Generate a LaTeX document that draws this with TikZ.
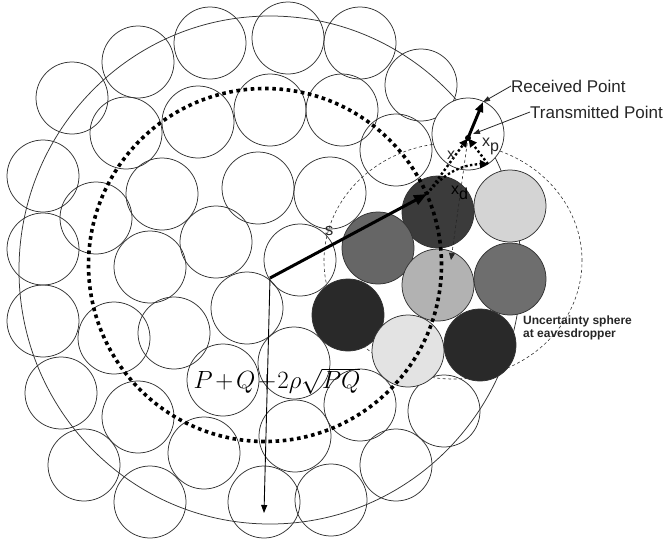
\documentclass[tikz,border=0pt]{standalone}
\usepackage{fontspec}
\setmainfont{Liberation Sans}
\usetikzlibrary{arrows.meta}
\begin{document}
\begin{tikzpicture}[x=1pt,y=-1pt,
  cell/.style={circle, draw=black!80, line width=0.75pt, minimum size=72pt, inner sep=0pt},
  gcell/.style={cell, fill=#1},
  bigline/.style={draw=black!80, line width=0.75pt},
  uncert/.style={draw=black!80, line width=0.6pt, dash pattern=on 3pt off 2.5pt},
  bigdots/.style={draw=black, line width=3.6pt, dash pattern=on 3.6pt off 3.6pt},
  dotarrow/.style={draw=black, line width=2.4pt, dash pattern=on 2.4pt off 2.4pt, -{Triangle[length=8pt,width=8pt]}},
  dasharrow/.style={draw=black!85, line width=0.6pt, dash pattern=on 3pt off 2.5pt, -{Triangle[length=7pt,width=6pt]}},
  thickarrow/.style={draw=black, line width=3pt, -{Triangle[length=13pt,width=10pt]}},
  thinarrow/.style={draw=black, line width=0.9pt, -{Triangle[length=8pt,width=6pt]}},
  leader/.style={draw=black!85, line width=0.8pt, -{Triangle[length=7pt,width=5pt]}},
  lbl/.style={inner sep=0pt, text=black!85}
]
\useasboundingbox (0,0) rectangle (672,541);
% outer boundary and uncertainty sphere
\draw[bigline] (270,270) ellipse [x radius=251pt, y radius=254pt];
\draw[uncert] (453,261) ellipse [x radius=129pt, y radius=118pt];
% white cells
\foreach \i/\p in {1/{(210,43)},2/{(288,38)},3/{(360,43)},4/{(138,62)},5/{(72,98)},6/{(421,85)},
  7/{(126,133)},8/{(198,122)},9/{(270,110)},10/{(342,110)},11/{(43,176)},12/{(96,218)},
  13/{(162,194)},14/{(258,188)},15/{(330,193)},16/{(396,150)},17/{(43,249)},18/{(150,267)},
  19/{(216,242)},20/{(300,260)},21/{(43,321)},22/{(114,338)},23/{(174,333)},24/{(247,308)},
  25/{(61,393)},26/{(138,417)},27/{(223,380)},28/{(294,363)},29/{(84,465)},30/{(204,453)},
  31/{(295,436)},32/{(150,502)},33/{(264,502)},34/{(331,500)},35/{(360,405)},36/{(444,411)},
  37/{(396,465)}}
  \node[cell] (c\i) at \p {};
\node[gcell=white] (rx) at (468,134) {};
% shaded cells
\node[gcell=black!77] (g1) at (438,212) {};
\node[gcell=black!17] (g2) at (510,206) {};
\node[gcell=black!60] (g3) at (378,248) {};
\node[gcell=black!30] (g4) at (438,285) {};
\node[gcell=black!57] (g5) at (510,279) {};
\node[gcell=black!84] (g6) at (348,315) {};
\node[gcell=black!11] (g7) at (408,351) {};
\node[gcell=black!84] (g8) at (480,345) {};
% power circle
\draw[bigdots] (265,265) circle [radius=176.5pt];
% key points
\coordinate (O) at (270,278);
\coordinate (A) at (427,194);
\coordinate (T) at (468,138);
\coordinate (R) at (483,102);
\coordinate (B) at (264,513);
\coordinate (D) at (451,260);
\coordinate (E) at (488,164);
\coordinate (Tp) at (473,134);
% vectors
\draw[thinarrow] (O) -- (B);
\draw[thickarrow] (O) -- (A);
\draw[dasharrow] (T) -- (D);
\draw[dotarrow, shorten >=1pt] (A) -- (T);
\draw[dotarrow, shorten >=1pt] (E) -- (T);
\draw[dotarrow] (A) to[bend left=25] (E);
\fill (T) circle [radius=3pt];
\draw[draw=black, line width=3pt, -{Triangle[length=10pt,width=8pt]}] (T) -- (R);
% labels
\node[lbl, anchor=west, font=\fontsize{17}{17}\selectfont] (recvlbl) at (511,86) {Received Point};
\node[lbl, anchor=west, font=\fontsize{17}{17}\selectfont] (tranlbl) at (530,112) {Transmitted Point};
\draw[leader] (recvlbl.west) -- (R);
\draw[leader] (tranlbl.west) -- (Tp);
\node[lbl, anchor=west, align=left, font=\bfseries\fontsize{12}{13.5}\selectfont] (unc) at (523,328) {Uncertainty sphere\\at eavesdropper};
\node[lbl, font=\fontsize{17}{17}\selectfont] (slbl) at (329,231) {s};
\node[lbl, font=\fontsize{16}{16}\selectfont] (xlbl) at (451,155) {x};
\node[lbl, anchor=west, font=\fontsize{16}{16}\selectfont] (xplbl) at (482,146) {x\raisebox{-5pt}{p}};
\node[lbl, anchor=west, text=black, font=\fontsize{16}{16}\selectfont] (xdlbl) at (451,193) {x\raisebox{-5pt}{d}};
\node[inner sep=0pt, font=\fontsize{24}{24}\selectfont] (formula) at (277,381)
  {$P\mkern2mu{+}\mkern2mu Q\mkern2mu{+}\mkern1mu 2\rho\sqrt{PQ}$};
\end{tikzpicture}
\end{document}
